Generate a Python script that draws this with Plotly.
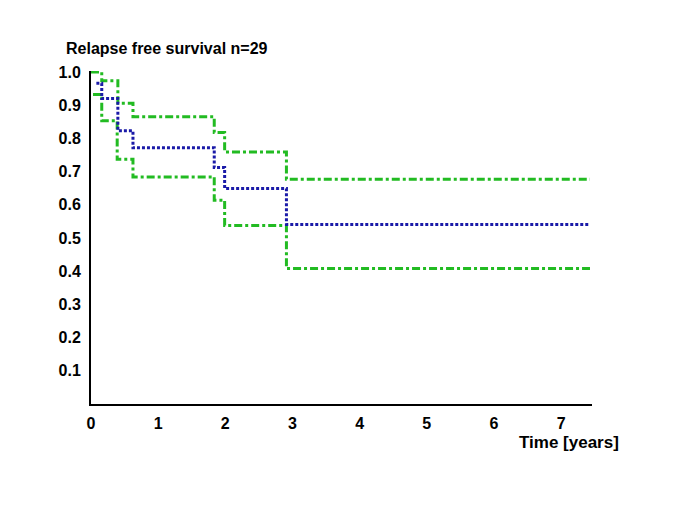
import plotly.graph_objects as go

# Step times (years) and survival values
upper_t = [0.0, 0.16, 0.40, 0.625, 1.835, 1.99, 2.91, 7.43]
upper_s = [1.0, 0.974, 0.906, 0.865, 0.818, 0.759, 0.677, 0.677]

km_t = [0.08, 0.16, 0.40, 0.625, 1.835, 1.99, 2.91, 7.43]
km_s = [0.966, 0.92, 0.823, 0.772, 0.712, 0.649, 0.541, 0.541]

lower_t = [0.03, 0.16, 0.39, 0.625, 1.835, 1.99, 2.91, 7.43]
lower_s = [0.932, 0.853, 0.737, 0.684, 0.614, 0.538, 0.408, 0.408]

x_ticks = [0, 1, 2, 3, 4, 5, 6, 7]
y_ticks = [0.1, 0.2, 0.3, 0.4, 0.5, 0.6, 0.7, 0.8, 0.9, 1.0]
y_tick_text = ["0.1", "0.2", "0.3", "0.4", "0.5", "0.6", "0.7", "0.8", "0.9", "1.0"]

GREEN = "#22bb22"
BLUE = "#1a1aa8"
FONT = "Liberation Sans, Arial, sans-serif"

fig = go.Figure()
fig.add_trace(go.Scatter(x=upper_t, y=upper_s, mode="lines", line_shape="hv",
                         line=dict(color=GREEN, width=3, dash="8px,3px,3px,3px"),
                         showlegend=False, hoverinfo="skip"))
fig.add_trace(go.Scatter(x=lower_t, y=lower_s, mode="lines", line_shape="hv",
                         line=dict(color=GREEN, width=3, dash="8px,3px,3px,3px"),
                         showlegend=False, hoverinfo="skip"))
fig.add_trace(go.Scatter(x=km_t, y=km_s, mode="lines", line_shape="hv",
                         line=dict(color=BLUE, width=3, dash="3px,2px"),
                         showlegend=False, hoverinfo="skip"))

fig.update_layout(
    width=685, height=513,
    margin=dict(l=83, r=101, t=63, b=117),
    paper_bgcolor="white", plot_bgcolor="white",
    font=dict(family=FONT, size=16, color="black"),
    xaxis=dict(range=[0, 7.46], tickvals=x_ticks, showgrid=False, zeroline=False,
               showline=True, linecolor="black", linewidth=2, ticks="",
               ticklabelstandoff=4,
               tickfont=dict(family=FONT, size=16, weight="bold"), fixedrange=True),
    yaxis=dict(range=[0, 1.003], tickvals=y_ticks, ticktext=y_tick_text, showgrid=False,
               zeroline=False, showline=True, linecolor="black", linewidth=2, ticks="",
               ticklabelstandoff=5,
               tickfont=dict(family=FONT, size=16, weight="bold"), fixedrange=True),
    annotations=[
        dict(text="<b>Relapse free survival n=29</b>", xref="paper", yref="paper",
             x=-0.054, y=1.069, xanchor="left", yanchor="middle", showarrow=False,
             font=dict(family=FONT, size=16, color="black")),
        dict(text="<b>Time [years]</b>", xref="paper", yref="paper",
             x=0.955, y=-0.117, xanchor="center", yanchor="middle", showarrow=False,
             font=dict(family=FONT, size=17, color="black")),
    ],
)

fig.write_html("out.html")
